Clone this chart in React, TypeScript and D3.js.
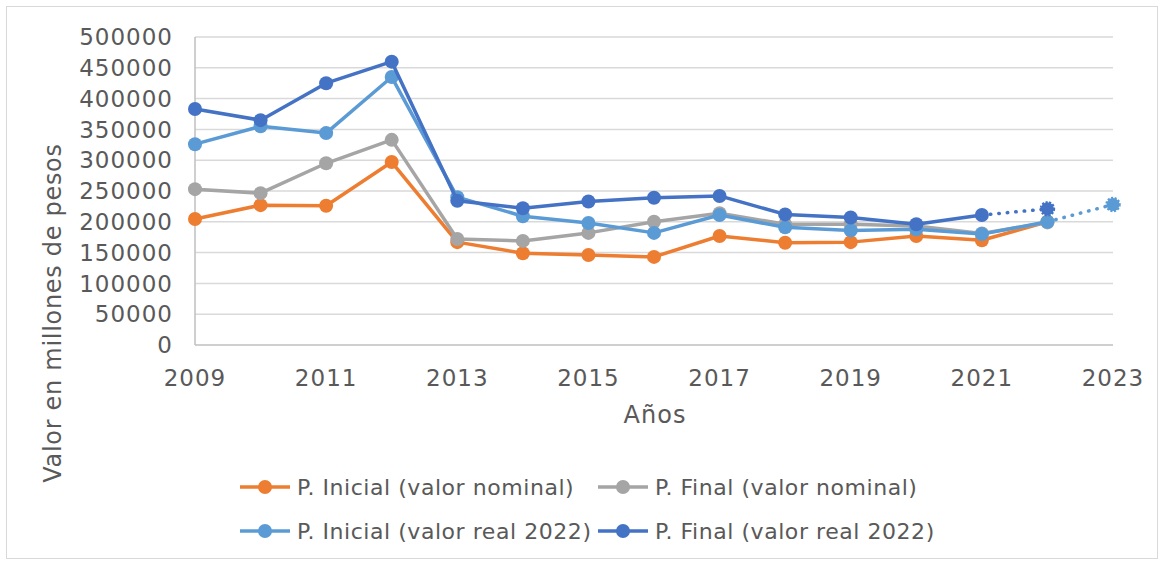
import { useEffect, useRef } from "react";
import * as d3 from "d3";

const years = [2009, 2010, 2011, 2012, 2013, 2014, 2015, 2016, 2017, 2018, 2019, 2020, 2021, 2022];
const inicialNominal = [204500, 227000, 226000, 297000, 167000, 149000, 146000, 143000, 177000, 166000, 167000, 177000, 170000, 200000];
const finalNominal = [253000, 246500, 295000, 333000, 172000, 169000, 182000, 200000, 214000, 196000, 196000, 193000, 181000, 199000];
const inicialReal = [326000, 355000, 344000, 435000, 240000, 209000, 198000, 182000, 211000, 191000, 186000, 188000, 180000, 200000];
const finalReal = [383000, 365000, 425000, 460000, 234000, 222000, 233000, 239000, 242000, 212000, 207000, 196000, 211000];
// projected points (dotted)
const finalRealProj = { year: 2022, value: 221000 };
const inicialRealProj = { year: 2023, value: 228000 };

const yTicks = [0, 50000, 100000, 150000, 200000, 250000, 300000, 350000, 400000, 450000, 500000];
const xTicks = [2009, 2011, 2013, 2015, 2017, 2019, 2021, 2023];

const W = 1164;
const H = 563;
const FONT = "'DejaVu Sans', sans-serif";
const TEXT = "#595959";

interface Pt { year: number; value: number; }

export default function App() {
  const svgRef = useRef<SVGSVGElement>(null);

  useEffect(() => {
    if (!svgRef.current) return;
    const svg = d3.select(svgRef.current);
    svg.selectAll("*").remove();

    const x = d3.scaleLinear().domain([2009, 2023]).range([195, 1113]);
    const y = d3.scaleLinear().domain([0, 500000]).range([345, 37]);

    // Outer frame
    svg.append("rect")
      .attr("x", 6.5).attr("y", 6.5)
      .attr("width", W - 13).attr("height", H - 11)
      .attr("fill", "#fff")
      .attr("stroke", "#d9d9d9")
      .attr("stroke-width", 1);

    // Grid
    svg.append("g")
      .selectAll("line")
      .data(yTicks.slice(1))
      .join("line")
      .attr("x1", x(2009)).attr("x2", x(2023))
      .attr("y1", (d) => y(d)).attr("y2", (d) => y(d))
      .attr("stroke", "#d9d9d9")
      .attr("stroke-width", 1.5);

    // Axis lines
    svg.append("line")
      .attr("x1", x(2009)).attr("x2", x(2009))
      .attr("y1", y(500000)).attr("y2", y(0))
      .attr("stroke", "#bfbfbf").attr("stroke-width", 1.5);
    svg.append("line")
      .attr("x1", x(2009)).attr("x2", x(2023))
      .attr("y1", y(0)).attr("y2", y(0))
      .attr("stroke", "#bfbfbf").attr("stroke-width", 1.5);

    // Y tick labels
    svg.append("g")
      .selectAll("text")
      .data(yTicks)
      .join("text")
      .attr("x", 173)
      .attr("y", (d) => y(d))
      .attr("dy", "0.36em")
      .attr("text-anchor", "end")
      .attr("font-family", FONT)
      .attr("font-size", 23)
      .attr("letter-spacing", 1)
      .attr("fill", TEXT)
      .text((d) => String(d));

    // X tick labels
    svg.append("g")
      .selectAll("text")
      .data(xTicks)
      .join("text")
      .attr("x", (d) => x(d))
      .attr("y", 386)
      .attr("text-anchor", "middle")
      .attr("font-family", FONT)
      .attr("font-size", 23)
      .attr("letter-spacing", 1)
      .attr("fill", TEXT)
      .text((d) => String(d));

    // Axis titles
    svg.append("text")
      .attr("x", 655).attr("y", 423)
      .attr("text-anchor", "middle")
      .attr("font-family", FONT)
      .attr("font-size", 24)
      .attr("letter-spacing", 1)
      .attr("fill", TEXT)
      .text("Años");

    svg.append("text")
      .attr("transform", `translate(61,${313}) rotate(-90)`)
      .attr("text-anchor", "middle")
      .attr("font-family", FONT)
      .attr("font-size", 24)
      .attr("letter-spacing", 0.7)
      .attr("fill", TEXT)
      .text("Valor en millones de pesos");

    const line = d3.line<Pt>().x((d) => x(d.year)).y((d) => y(d.value));

    const series = [
      { name: "P. Inicial (valor nominal)", color: "#ed7d31", values: inicialNominal },
      { name: "P. Final (valor nominal)", color: "#a5a5a5", values: finalNominal },
      { name: "P. Inicial (valor real 2022)", color: "#5b9bd5", values: inicialReal },
      { name: "P. Final (valor real 2022)", color: "#4472c4", values: finalReal },
    ];

    const projections: { from: Pt; to: Pt; color: string }[] = [
      {
        from: { year: years[finalReal.length - 1], value: finalReal[finalReal.length - 1] },
        to: finalRealProj,
        color: "#4472c4",
      },
      {
        from: { year: years[inicialReal.length - 1], value: inicialReal[inicialReal.length - 1] },
        to: inicialRealProj,
        color: "#5b9bd5",
      },
    ];

    series.forEach((s) => {
      const pts: Pt[] = s.values.map((v, j) => ({ year: years[j], value: v }));
      const g = svg.append("g");
      g.append("path")
        .datum(pts)
        .attr("d", line)
        .attr("fill", "none")
        .attr("stroke", s.color)
        .attr("stroke-width", 3.5)
        .attr("stroke-linejoin", "round");
      g.selectAll("circle")
        .data(pts)
        .join("circle")
        .attr("cx", (d) => x(d.year))
        .attr("cy", (d) => y(d.value))
        .attr("r", 7)
        .attr("fill", s.color);

      // dotted projections drawn with matching series
      projections
        .filter((p) => p.color === s.color)
        .forEach((p) => {
          g.append("path")
            .datum([p.from, p.to])
            .attr("d", line)
            .attr("fill", "none")
            .attr("stroke", p.color)
            .attr("stroke-width", 3.5)
            .attr("stroke-linecap", "round")
            .attr("stroke-dasharray", "0.5,8");
          g.append("circle")
            .attr("cx", x(p.to.year))
            .attr("cy", y(p.to.value))
            .attr("r", 6.5)
            .attr("fill", p.color)
            .attr("stroke", p.color)
            .attr("stroke-width", 2.5)
            .attr("stroke-dasharray", "2,1.5");
        });
    });

    // Legend
    const legendPos = [
      { lx: 240, ly: 487 },
      { lx: 598, ly: 487 },
      { lx: 240, ly: 531 },
      { lx: 598, ly: 531 },
    ];
    series.forEach((s, i) => {
      const { lx, ly } = legendPos[i];
      const lg = svg.append("g").attr("transform", `translate(${lx},${ly})`);
      lg.append("line")
        .attr("x1", 0).attr("x2", 50)
        .attr("y1", 0).attr("y2", 0)
        .attr("stroke", s.color).attr("stroke-width", 3.5);
      lg.append("circle").attr("cx", 25).attr("cy", 0).attr("r", 7).attr("fill", s.color);
      lg.append("text")
        .attr("x", 57).attr("y", 0).attr("dy", "0.36em")
        .attr("font-family", FONT)
        .attr("font-size", 22)
        .attr("letter-spacing", 0.55)
        .attr("fill", TEXT)
        .text(s.name);
    });
  }, []);

  return (
    <svg
      ref={svgRef}
      width={W}
      height={H}
      style={{ position: "absolute", left: 0, top: 0 }}
    />
  );
}
